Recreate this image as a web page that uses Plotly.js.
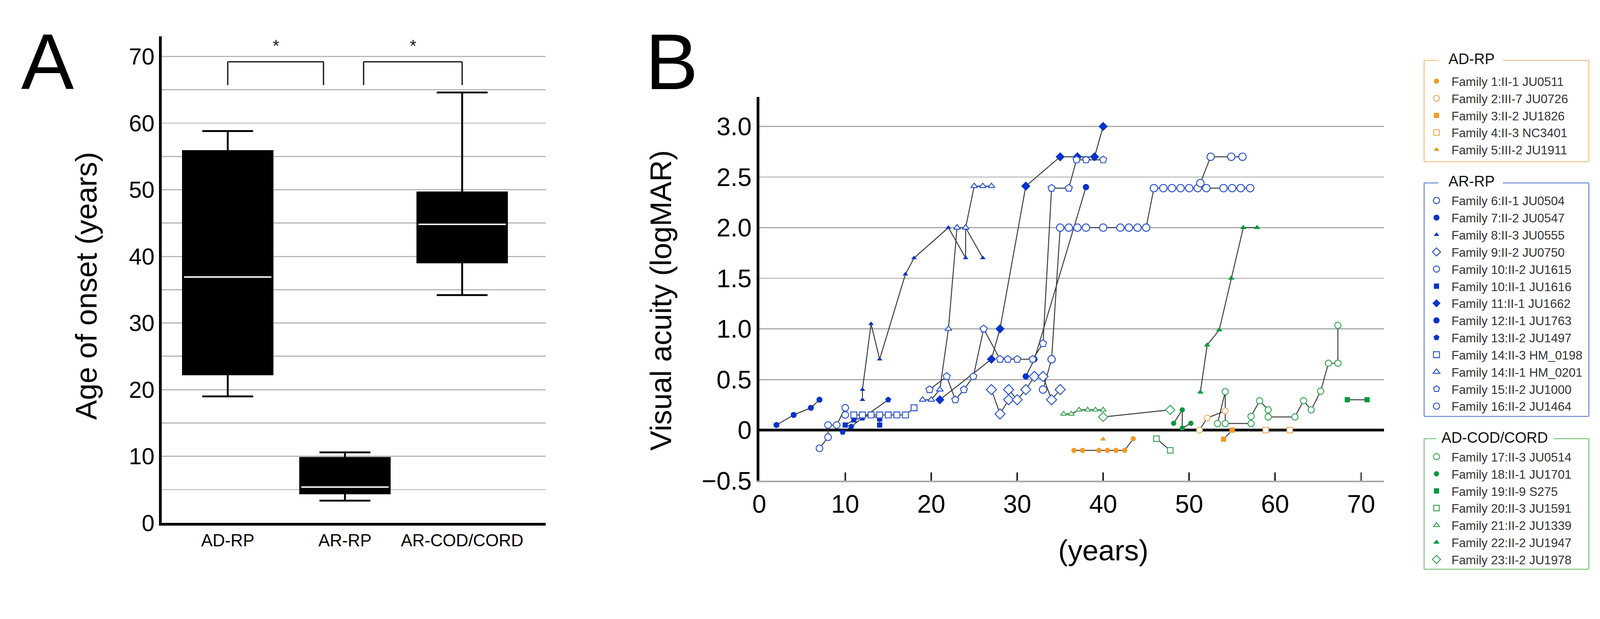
<!DOCTYPE html>
<html>
<head>
<meta charset="utf-8">
<script src="https://cdn.plot.ly/plotly-3.0.1.min.js"></script>
<style>html,body{margin:0;padding:0;background:#fff;overflow:hidden;}#chart{display:block;}</style>
</head>
<body>
<div id="chart"></div>
<script>
// ---------- Panel A data (age of onset, years) ----------
const groups = ['AD-RP', 'AR-RP', 'AR-COD/CORD'];
const onsetQ1 = [22.3, 4.46, 39.1];
const onsetMedian = [36.9, 5.39, 44.8];
const onsetQ3 = [55.8, 9.76, 49.6];
const onsetLower = [19.0, 3.35, 34.2];
const onsetUpper = [58.8, 10.6, 64.6];

// ---------- Panel B data (age in years, visual acuity logMAR) ----------
// AD-RP
const f1Age = [36.6, 37.6, 39.5, 40.5, 41.5, 42.5, 43.5];
const f1VA  = [-0.2, -0.2, -0.2, -0.2, -0.2, -0.2, -0.085];
const f2Age = [51.2, 52.1, 54.2];
const f2VA  = [0, 0.12, 0.19];
const f3Age = [54.0, 55.0];
const f3VA  = [-0.09, 0];
const f4Age = [58.9, 61.7];
const f4VA  = [0, 0];
const f5Age = [40];
const f5VA  = [-0.09];
// AR-RP
const f6Age = [33, 34, 35, 36, 37, 38, 40, 42, 43, 44, 45, 45.9, 47, 48, 49, 50, 51, 52, 54, 55, 56, 57.1];
const f6VA  = [0.4, 0.7, 2.0, 2.0, 2.0, 2.0, 2.0, 2.0, 2.0, 2.0, 2.0, 2.39, 2.39, 2.39, 2.39, 2.39, 2.39, 2.39, 2.39, 2.39, 2.39, 2.39];
const f7Age = [2, 4, 6, 7];
const f7VA  = [0.05, 0.15, 0.22, 0.3];
const f8Age = [12, 12, 13, 14, 17, 18, 22, 24, 24, 26];
const f8VA  = [0.3, 0.4, 1.05, 0.7, 1.54, 1.7, 2.0, 1.7, 2.0, 1.7];
const f9Age = [27, 28, 29, 29, 30, 31, 32, 33, 34, 35];
const f9VA  = [0.4, 0.16, 0.3, 0.4, 0.3, 0.4, 0.53, 0.53, 0.3, 0.4];
const f10bAge = [7, 8, 8, 9, 10, 10];
const f10bVA  = [-0.18, -0.07, 0.05, 0.05, 0.22, 0.15];
const f10aAge = [10, 11, 13, 14, 14];
const f10aVA  = [0.05, 0.1, 0.15, 0.11, 0.05];
const f11Age = [21, 27, 28, 31, 35, 37, 39, 40];
const f11VA  = [0.3, 0.7, 1.0, 2.41, 2.7, 2.7, 2.7, 3.0];
const f12Age = [31, 32, 38];
const f12VA  = [0.53, 0.7, 2.4];
const f13Age = [9.7, 10.7, 12, 15];
const f13VA  = [-0.02, 0.035, 0.12, 0.3];
const f14bAge = [11, 12, 13, 14, 15, 16, 17, 18];
const f14bVA  = [0.15, 0.15, 0.15, 0.15, 0.15, 0.15, 0.15, 0.22];
const f14aAge = [19, 20, 21, 22, 23, 24, 25, 26, 27];
const f14aVA  = [0.3, 0.3, 0.4, 1.0, 2.0, 2.0, 2.41, 2.41, 2.41];
const f15Age = [19.8, 21.8, 22.8, 23.8, 24.9, 26.1, 28, 28.9, 30, 31.8, 33, 34, 36, 36.9, 38, 40];
const f15VA  = [0.4, 0.53, 0.3, 0.4, 0.53, 1.0, 0.7, 0.7, 0.7, 0.7, 0.855, 2.39, 2.39, 2.67, 2.67, 2.67];
const f16Age = [51.3, 52.5, 54.9, 56.2];
const f16VA  = [2.44, 2.7, 2.7, 2.7];
// AD-COD/CORD
const f17Age = [53.3, 54.2, 54.2, 57.2, 57.2, 58.2, 59.2, 59.2, 62.3, 63.3, 64.2, 65.3, 66.2, 67.3, 67.3];
const f17VA  = [0.065, 0.38, 0.065, 0.065, 0.136, 0.29, 0.2, 0.13, 0.13, 0.29, 0.2, 0.385, 0.66, 0.66, 1.035];
const f18Age = [48.2, 49.2, 49.2, 50.2];
const f18VA  = [0.067, 0.2, 0.02, 0.067];
const f19Age = [68.4, 70.7];
const f19VA  = [0.3, 0.3];
const f20Age = [46.2, 47.8];
const f20VA  = [-0.085, -0.2];
const f21Age = [35.4, 36.3, 37.2, 38.2, 39.1, 40];
const f21VA  = [0.16, 0.16, 0.2, 0.2, 0.2, 0.2];
const f22Age = [51.3, 52.1, 53.5, 54.9, 56.3, 57.9];
const f22VA  = [0.375, 0.84, 0.99, 1.5, 2.0, 2.0];
const f23Age = [40, 47.8];
const f23VA  = [0.13, 0.2];

// axis tick labels
const onsetTicks = [0, 5, 10, 15, 20, 25, 30, 35, 40, 45, 50, 55, 60, 65, 70];
const onsetTickText = ['0', '', '10', '', '20', '', '30', '', '40', '', '50', '', '60', '', '70'];
const vaTicks = [-0.5, 0, 0.5, 1.0, 1.5, 2.0, 2.5, 3.0];
const vaTickText = ['\u22120.5', '0', '0.5', '1.0', '1.5', '2.0', '2.5', '3.0'];
const ageTicks = [0, 10, 20, 30, 40, 50, 60, 70];

// ---------- sizing: design is in 4303x1584 px, scaled to the CSS viewport ----------
const W0 = 4303, H0 = 1584;
let vw = window.innerWidth || W0, vh = window.innerHeight || H0;
let k = Math.min(vw / W0, vh / H0);
if (!isFinite(k) || k <= 0) k = 1;
const S = v => v * k;
const W = Math.floor(W0 * k), H = Math.floor(H0 * k);
const px = v => v / W0;
const py = v => 1 - v / H0;

// ---------- styles ----------
const FONT = 'Liberation Sans, Arial, Helvetica, sans-serif';
const OR = '#F39A24', ORo = '#F3AE5C';
const BL = '#0433CC', BLo = '#2F56D2';
const GR = '#00993A', GRo = '#3AAA55';

function mk(symbol, color, size, open) {
  return open
    ? {symbol: symbol, size: S(size), color: '#ffffff', line: {color: color, width: S(2.6)}}
    : {symbol: symbol, size: S(size), color: color, line: {color: color, width: 0}};
}

const families = [
  {name: 'Family 1:II-1 JU0511', x: f1Age, y: f1VA, m: mk('circle', OR, 14, false), lg: 'legend'},
  {name: 'Family 2:III-7 JU0726', x: f2Age, y: f2VA, m: mk('circle', ORo, 16, true), lg: 'legend'},
  {name: 'Family 3:II-2 JU1826', x: f3Age, y: f3VA, m: mk('square', OR, 14, false), lg: 'legend'},
  {name: 'Family 4:II-3 NC3401', x: f4Age, y: f4VA, m: mk('square', ORo, 15, true), lg: 'legend'},
  {name: 'Family 5:III-2 JU1911', x: f5Age, y: f5VA, m: mk('triangle-up', OR, 14, false), lg: 'legend'},
  {name: 'Family 6:II-1 JU0504', x: f6Age, y: f6VA, m: mk('circle', BLo, 20, true), lg: 'legend2'},
  {name: 'Family 7:II-2 JU0547', x: f7Age, y: f7VA, m: mk('circle', BL, 16, false), lg: 'legend2'},
  {name: 'Family 8:II-3 JU0555', x: f8Age, y: f8VA, m: mk('triangle-up', BL, 13, false), lg: 'legend2'},
  {name: 'Family 9:II-2 JU0750', x: f9Age, y: f9VA, m: mk('diamond', BLo, 21, true), lg: 'legend2'},
  {name: 'Family 10:II-2 JU1615', x: f10bAge, y: f10bVA, m: mk('circle', BLo, 18, true), lg: 'legend2'},
  {name: 'Family 10:II-1 JU1616', x: f10aAge, y: f10aVA, m: mk('square', BL, 14, false), lg: 'legend2'},
  {name: 'Family 11:II-1 JU1662', x: f11Age, y: f11VA, m: mk('diamond', BL, 19, false), lg: 'legend2'},
  {name: 'Family 12:II-1 JU1763', x: f12Age, y: f12VA, m: mk('circle', BL, 17, false), lg: 'legend2'},
  {name: 'Family 13:II-2 JU1497', x: f13Age, y: f13VA, m: mk('pentagon', BL, 17, false), lg: 'legend2'},
  {name: 'Family 14:II-3 HM_0198', x: f14bAge, y: f14bVA, m: mk('square', BLo, 16, true), lg: 'legend2'},
  {name: 'Family 14:II-1 HM_0201', x: f14aAge, y: f14aVA, m: mk('triangle-up', BLo, 16, true), lg: 'legend2'},
  {name: 'Family 15:II-2 JU1000', x: f15Age, y: f15VA, m: mk('pentagon', BLo, 20, true), lg: 'legend2'},
  {name: 'Family 16:II-2 JU1464', x: f16Age, y: f16VA, m: mk('circle', BLo, 20, true), lg: 'legend2'},
  {name: 'Family 17:II-3 JU0514', x: f17Age, y: f17VA, m: mk('circle', GRo, 17, true), lg: 'legend3'},
  {name: 'Family 18:II-1 JU1701', x: f18Age, y: f18VA, m: mk('circle', GR, 14, false), lg: 'legend3'},
  {name: 'Family 19:II-9 S275', x: f19Age, y: f19VA, m: mk('square', GR, 14, false), lg: 'legend3'},
  {name: 'Family 20:II-3 JU1591', x: f20Age, y: f20VA, m: mk('square', GRo, 15, true), lg: 'legend3'},
  {name: 'Family 21:II-2 JU1339', x: f21Age, y: f21VA, m: mk('triangle-up', GRo, 14, true), lg: 'legend3'},
  {name: 'Family 22:II-2 JU1947', x: f22Age, y: f22VA, m: mk('triangle-up', GR, 15, false), lg: 'legend3'},
  {name: 'Family 23:II-2 JU1978', x: f23Age, y: f23VA, m: mk('diamond', GRo, 19, true), lg: 'legend3'}
];

const traces = [];
traces.push({
  type: 'box', x: groups, q1: onsetQ1, median: onsetMedian, q3: onsetQ3,
  lowerfence: onsetLower, upperfence: onsetUpper,
  fillcolor: '#000000', line: {color: '#000000', width: S(5)},
  whiskerwidth: 0.568, width: 0.764, boxpoints: false,
  xaxis: 'x', yaxis: 'y', showlegend: false, hoverinfo: 'skip'
});
traces.push({
  type: 'box', x: groups, q1: onsetMedian, median: onsetMedian, q3: onsetMedian,
  lowerfence: onsetMedian, upperfence: onsetMedian,
  fillcolor: '#ffffff', line: {color: '#ffffff', width: S(4)},
  whiskerwidth: 0, width: 0.745, boxpoints: false,
  xaxis: 'x', yaxis: 'y', showlegend: false, hoverinfo: 'skip'
});
families.forEach(f => {
  traces.push({
    type: 'scatter', mode: 'lines', x: f.x, y: f.y,
    line: {color: '#3c3c3c', width: S(2.6)},
    xaxis: 'x2', yaxis: 'y2', showlegend: false, hoverinfo: 'skip'
  });
});
families.forEach(f => {
  traces.push({
    type: 'scatter', mode: 'markers', x: f.x, y: f.y, name: f.name,
    marker: f.m, xaxis: 'x2', yaxis: 'y2', legend: f.lg, showlegend: true, hoverinfo: 'skip'
  });
});

const shapes = [];
function seg(x0, y0, x1, y1, color, w) {
  shapes.push({type: 'line', xref: 'paper', yref: 'paper', x0: px(x0), y0: py(y0), x1: px(x1), y1: py(y1),
    line: {color: color, width: S(w)}});
}
function fieldset(top, bottom, gapL, gapR, color) {
  const L = 3830, R = 4273;
  seg(L, top, L, bottom, color, 3);
  seg(L, bottom, R, bottom, color, 3);
  seg(R, bottom, R, top, color, 3);
  seg(L, top, gapL, top, color, 3);
  seg(gapR, top, R, top, color, 3);
}
fieldset(162.5, 435, 3868, 4042, '#F7C690');
fieldset(492, 1120, 3868, 4042, '#7792DA');
fieldset(1180, 1531, 3863, 4178, '#86C98A');

const brackets = [[0, 0.817], [1.159, 2]];
brackets.forEach(b => {
  [[b[0], 65.7, b[0], 69.2], [b[0], 69.2, b[1], 69.2], [b[1], 69.2, b[1], 65.7]].forEach(s => {
    shapes.push({type: 'line', xref: 'x', yref: 'y', x0: s[0], y0: s[1], x1: s[2], y1: s[3],
      line: {color: '#1a1a1a', width: S(3.5)}});
  });
});

function ann(text, x, y, size, opts) {
  return Object.assign({text: text, x: x, y: y, xref: 'paper', yref: 'paper', showarrow: false,
    xanchor: 'center', yanchor: 'middle', font: {size: S(size), family: FONT, color: '#000'}}, opts || {});
}
const annotations = [
  ann('A', px(128), py(166), 213),
  ann('B', px(1806), py(166), 213),
  ann('Age of onset (years)', px(232), py(769), 80, {textangle: -90}),
  ann('Visual acuity (logMAR)', px(1777), py(808), 80, {textangle: -90}),
  ann('(years)', 40, py(1480), 78, {xref: 'x2'}),
  ann('*', 0.41, 71.6, 46, {xref: 'x', yref: 'y', font: {size: S(46), family: FONT, color: '#222'}}),
  ann('*', 1.58, 71.6, 46, {xref: 'x', yref: 'y', font: {size: S(46), family: FONT, color: '#222'}}),
  ann('AD-RP', px(3893), py(159), 40, {xanchor: 'left', font: {size: S(40), family: FONT, color: '#111'}}),
  ann('AR-RP', px(3893), py(488), 40, {xanchor: 'left', font: {size: S(40), family: FONT, color: '#111'}}),
  ann('AD-COD/CORD', px(3874), py(1177), 40, {xanchor: 'left', font: {size: S(40), family: FONT, color: '#111'}})
];

const legendBase = {
  xanchor: 'left', yanchor: 'top', x: px(3823), bgcolor: 'rgba(0,0,0,0)', borderwidth: 0,
  font: {size: S(33), family: FONT, color: '#333'}, itemwidth: Math.max(30, S(70)),
  itemclick: false, itemdoubleclick: false, tracegroupgap: 0
};

const layout = {
  width: W, height: H,
  margin: {l: 0, r: 0, t: 0, b: 0, pad: 0},
  paper_bgcolor: '#ffffff', plot_bgcolor: '#ffffff',
  font: {family: FONT, color: '#000'},
  hovermode: false,
  boxmode: 'overlay',
  xaxis: {
    domain: [px(435), px(1468)], anchor: 'y', type: 'category',
    categoryorder: 'array', categoryarray: groups,
    range: [-0.563, 2.714], fixedrange: true,
    showline: true, linecolor: '#000', linewidth: S(7),
    ticks: '', showgrid: false, zeroline: false,
    tickfont: {size: S(46), family: FONT, color: '#000'}, ticklabelstandoff: S(36)
  },
  yaxis: {
    domain: [py(1406.7), py(98)], anchor: 'x',
    range: [0, 73], fixedrange: true,
    tickvals: onsetTicks, ticktext: onsetTickText,
    showline: true, linecolor: '#000', linewidth: S(7),
    ticks: '', showgrid: true, gridcolor: '#b6b6b6', gridwidth: S(3), zeroline: false,
    tickfont: {size: S(62), family: FONT, color: '#000'}, ticklabelstandoff: S(40)
  },
  xaxis2: {
    domain: [px(2042), px(3722)], anchor: 'y2',
    range: [0, 72.66], fixedrange: true,
    tickvals: ageTicks, ticktext: ageTicks.map(String),
    showline: true, linecolor: '#a8a8a8', linewidth: S(4),
    ticks: 'inside', ticklen: S(22), tickwidth: S(4), tickcolor: '#222',
    showgrid: false, zeroline: false,
    tickfont: {size: S(68), family: FONT, color: '#000'}, ticklabelstandoff: S(58)
  },
  yaxis2: {
    domain: [py(1293), py(261)], anchor: 'x2',
    range: [-0.5, 3.29], fixedrange: true,
    tickvals: vaTicks, ticktext: vaTickText,
    showline: true, linecolor: '#000', linewidth: S(7),
    ticks: '', showgrid: true, gridcolor: '#a8a8a8', gridwidth: S(3),
    zeroline: true, zerolinecolor: '#000', zerolinewidth: S(8),
    tickfont: {size: S(68), family: FONT, color: '#000'}, ticklabelstandoff: S(66)
  },
  legend: Object.assign({}, legendBase, {y: py(190)}),
  legend2: Object.assign({}, legendBase, {y: py(511)}),
  legend3: Object.assign({}, legendBase, {y: py(1200)}),
  shapes: shapes,
  annotations: annotations
};

const el = document.getElementById('chart');
el.style.width = W + 'px';
el.style.height = H + 'px';
Plotly.newPlot(el, traces, layout, {staticPlot: true, displayModeBar: false});
</script>
</body>
</html>
